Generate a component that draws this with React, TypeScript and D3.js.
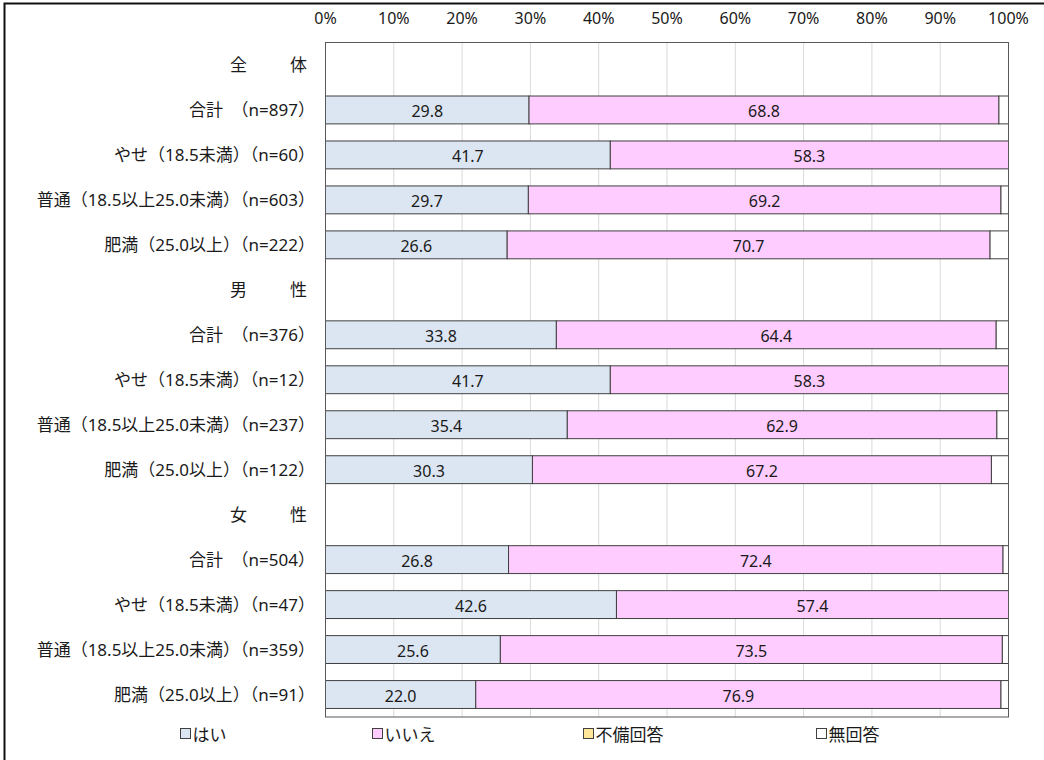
import React from "react";
import * as d3 from "d3";

const rowLabels = [
  "全　　体",
  "合計　（n=897）",
  "やせ（18.5未満）（n=60）",
  "普通（18.5以上25.0未満）（n=603）",
  "肥満（25.0以上）（n=222）",
  "男　　性",
  "合計　（n=376）",
  "やせ（18.5未満）（n=12）",
  "普通（18.5以上25.0未満）（n=237）",
  "肥満（25.0以上）（n=122）",
  "女　　性",
  "合計　（n=504）",
  "やせ（18.5未満）（n=47）",
  "普通（18.5以上25.0未満）（n=359）",
  "肥満（25.0以上）（n=91）",
];
const isHeader = [true, false, false, false, false, true, false, false, false, false, true, false, false, false, false];

const hai = [null, 29.8, 41.7, 29.7, 26.6, null, 33.8, 41.7, 35.4, 30.3, null, 26.8, 42.6, 25.6, 22.0];
const iie = [null, 68.8, 58.3, 69.2, 70.7, null, 64.4, 58.3, 62.9, 67.2, null, 72.4, 57.4, 73.5, 76.9];
const fubi = [null, 0, 0, 0, 0, null, 0, 0, 0, 0, null, 0, 0, 0, 0];
const muKaitou = [null, 1.4, 0.0, 1.1, 2.7, null, 1.8, 0.0, 1.7, 2.5, null, 0.8, 0.0, 0.9, 1.1];

const seriesNames = ["はい", "いいえ", "不備回答", "無回答"];
const seriesColors = ["#dce6f2", "#ffccff", "#ffe699", "#ffffff"];
const tickValues = [0, 10, 20, 30, 40, 50, 60, 70, 80, 90, 100];

const FONT = "'Noto Sans', 'Noto Sans CJK JP', sans-serif";

export default function App() {
  const W = 1044, H = 760;
  const left = 325.5, right = 1008.5, top = 42.5, bottom = 717;
  const x = d3.scaleLinear().domain([0, 100]).range([left, right]);
  const y = d3.scaleBand<number>().domain(d3.range(rowLabels.length)).range([top, bottom]).paddingInner(0.38).paddingOuter(0.19);
  const series = [hai, iie, fubi, muKaitou];
  const legendX = [180.5, 372.5, 583.5, 816.5];

  return (
    <svg width={W} height={H} style={{ position: "absolute", left: 0, top: 0, background: "#fff" }} fontFamily={FONT}>
      <rect x={0} y={0} width={W} height={H} fill="#fff" />
      <rect x={4.5} y={3.5} width={1060} height={780} fill="none" stroke="#111" strokeWidth={2} />
      {tickValues.map((t) => (
        <g key={t}>
          <line x1={x(t)} x2={x(t)} y1={top} y2={bottom} stroke="#d9d9d9" strokeWidth={1} />
          <text x={x(t)} y={17.5} textAnchor="middle" dominantBaseline="central" fontSize={16} fill="#1a1a1a">{t}%</text>
        </g>
      ))}
      {rowLabels.map((lab, i) => {
        const by = y(i)!;
        const bh = y.bandwidth();
        const cy = by + bh / 2;
        const segs: JSX.Element[] = [];
        if (!isHeader[i]) {
          let acc = 0;
          series.forEach((s, si) => {
            const v = s[i] as number;
            const x0 = x(acc);
            acc += v;
            const x1 = x(Math.min(acc, 100));
            if (v <= 0) return;
            segs.push(
              <rect key={si} x={x0} y={by} width={Math.max(0, x1 - x0)} height={bh} fill={seriesColors[si]} stroke="#404040" strokeWidth={1} />
            );
            if (si < 2) {
              segs.push(
                <text key={"t" + si} x={(x0 + x1) / 2} y={cy + 1} textAnchor="middle" dominantBaseline="central" fontSize={16} fill="#1a1a1a">{v.toFixed(1)}</text>
              );
            }
          });
        }
        return (
          <g key={i}>
            {segs}
            {isHeader[i] ? (
              <text x={307} y={cy} textAnchor="end" dominantBaseline="central" fontSize={17} fill="#1a1a1a" textLength={77} lengthAdjust="spacing">{lab}</text>
            ) : (
              <text x={315} y={cy} textAnchor="end" dominantBaseline="central" fontSize={17} fill="#1a1a1a">{lab}</text>
            )}
          </g>
        );
      })}
      <rect x={left} y={top} width={right - left} height={bottom - top} fill="none" stroke="#595959" strokeWidth={1} />
      {seriesNames.map((n, i) => (
        <g key={n}>
          <rect x={legendX[i]} y={728.5} width={10} height={10} fill={seriesColors[i]} stroke="#404040" strokeWidth={1} />
          <text x={legendX[i] + 12} y={734} dominantBaseline="central" fontSize={17} fill="#1a1a1a">{n}</text>
        </g>
      ))}
    </svg>
  );
}
